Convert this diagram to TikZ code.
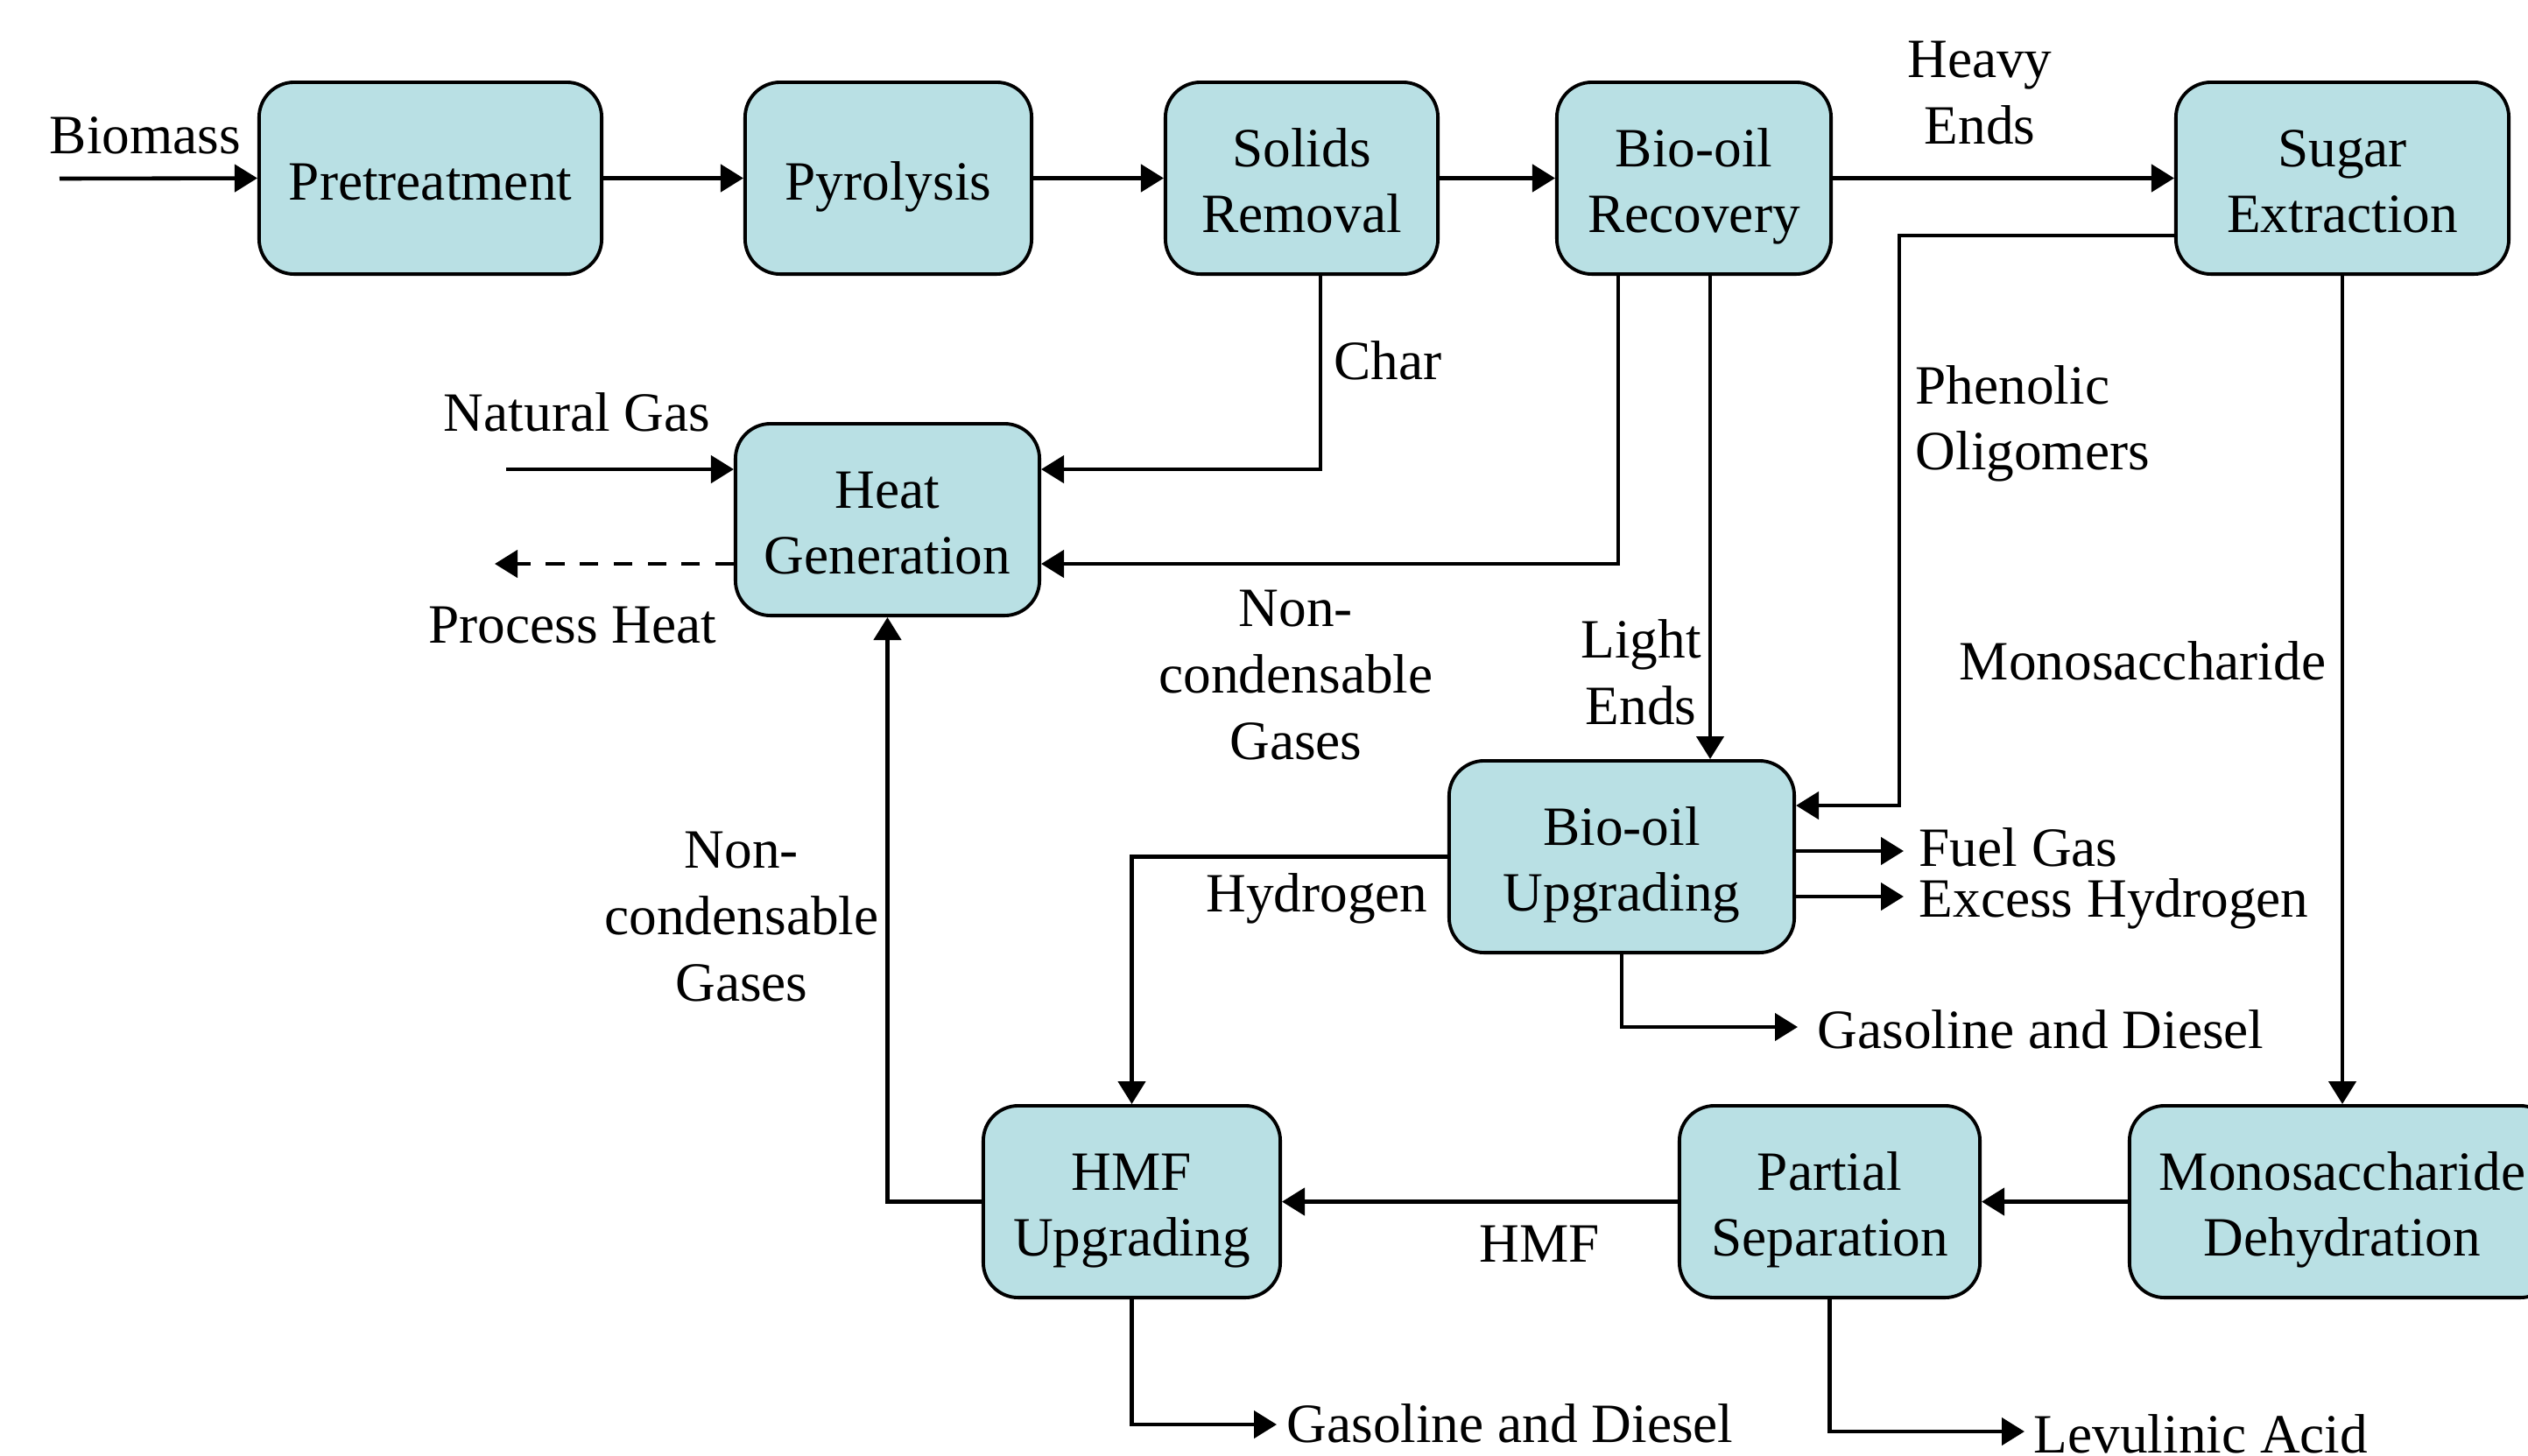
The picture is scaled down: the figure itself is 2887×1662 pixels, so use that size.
\documentclass[tikz,border=0pt]{standalone}
\usepackage{fontspec}
\setmainfont{Liberation Serif}
\usetikzlibrary{arrows.meta,calc}
\definecolor{boxfill}{RGB}{185,224,228}
\newcommand\topst{\rule{0pt}{18pt}}
\newcommand\botst{\rule[-4pt]{0pt}{4pt}}
\begin{document}
\begin{tikzpicture}[x=0.01cm,y=-0.01cm,
  box/.style={draw=black,line width=1.1pt,fill=boxfill,rounded corners=0.4cm,align=center,
    font=\fontsize{18}{21.5}\selectfont,minimum height=2.19cm,inner sep=0pt},
  lbl/.style={align=center,font=\fontsize{18}{21.5}\selectfont,inner sep=0pt},
  lbll/.style={lbl,align=left,anchor=west},
  arr/.style={line width=1.3pt,-{Triangle[length=0.26cm,width=0.31cm]}},
  dash arr/.style={arr,dash pattern=on 6pt off 5pt}]
\useasboundingbox (0,0) rectangle (2887,1662);
\begin{scope}
\clip (0,0) rectangle (2887,1662);
% boxes
\node[box,minimum width=3.91cm] (pre) at (491.5,203.5) {\topst\botst Pretreatment};
\node[box,minimum width=3.27cm] (pyr) at (1014.5,203.5) {\topst\botst Pyrolysis};
\node[box,minimum width=3.11cm] (sol) at (1486.5,203.5) {\topst Solids\\Removal\botst};
\node[box,minimum width=3.13cm] (rec) at (1934.5,203.5) {\topst Bio-oil\\Recovery\botst};
\node[box,minimum width=3.80cm] (sug) at (2675,203.5) {\topst Sugar\\Extraction\botst};
\node[box,minimum width=3.47cm] (heat) at (1013.5,593.5) {\topst Heat\\Generation\botst};
\node[box,minimum width=3.94cm] (upg) at (1852,978.5) {\topst Bio-oil\\Upgrading\botst};
\node[box,minimum width=3.39cm] (hmf) at (1292.5,1372.5) {\topst HMF\\Upgrading\botst};
\node[box,minimum width=3.43cm] (part) at (2089.5,1372.5) {\topst Partial\\Separation\botst};
\node[box,minimum width=4.86cm] (mono) at (2675,1372.5) {\topst Monosaccharide\\Dehydration\botst};
% labels
\node[lbl] (lbio) at (166,155) {Biomass};
\node[lbl] (lheavy) at (2261,106) {Heavy\\Ends};
\node[lbl] (lchar) at (1585,412) {Char};
\node[lbl] (lng) at (659,471) {Natural Gas};
\node[lbl] (lph) at (654,714) {Process Heat};
\node[lbll] (lphen) at (2187,484) {Phenolic\\Oligomers};
\node[lbl] (lnc1) at (1480,771) {Non-\\condensable\\Gases};
\node[lbl] (lle) at (1874,768) {Light\\Ends};
\node[lbl] (lmono) at (2447,755) {Monosaccharide};
\node[lbl] (lnc2) at (847,1047) {Non-\\condensable\\Gases};
\node[lbl] (lh2) at (1504,1026) {Hydrogen};
\node[lbll] (lfg) at (2191,968) {Fuel Gas};
\node[lbll] (leh) at (2191,1032) {Excess Hydrogen};
\node[lbll] (lgd1) at (2075,1176) {Gasoline and Diesel};
\node[lbl] (lhmf) at (1758,1421) {HMF};
\node[lbll] (lgd2) at (1469,1626) {Gasoline and Diesel};
\node[lbll] (lla) at (2322,1638) {Levulinic Acid};
% free ends
\coordinate (bioin) at (68,204);
\coordinate (ngin) at (578,536);
\coordinate (phout) at (565,644);
\coordinate (fgout) at (2174,972);
\coordinate (ehout) at (2174,1024);
\coordinate (gd1out) at (2053,1173);
\coordinate (gd2out) at (1458,1627);
\coordinate (laout) at (2312,1635);
\coordinate (charA) at ($(sol.south)+(21.5,0)$);
\coordinate (charB) at ($(heat.east)+(0,-57.5)$);
\coordinate (ncA) at ($(rec.south)+(-86.5,0)$);
\coordinate (ncB) at ($(heat.east)+(0,50.5)$);
\coordinate (leA) at ($(rec.south)+(18.5,0)$);
\coordinate (phA) at ($(sug.west)+(0,65.5)$);
\coordinate (phB) at ($(upg.east)+(0,-58.5)$);
% connectors
\draw[arr] (bioin) -- (pre.west);
\draw[arr] (pre) -- (pyr);
\draw[arr] (pyr) -- (sol);
\draw[arr] (sol) -- (rec);
\draw[arr] (rec) -- (sug);
\draw[arr] (charA) |- (charB);
\draw[arr] (ncA) |- (ncB);
\draw[arr] (leA) -- (leA |- upg.north);
\draw[arr] (phA) -| ($(phB)+(118,0)$) -- (phB);
\draw[arr] (sug.south) -- (mono.north);
\draw[arr] (ngin) -- (ngin -| heat.west);
\draw[dash arr] (phout -| heat.west) -- (phout);
\draw[arr] (fgout -| upg.east) -- (fgout);
\draw[arr] (ehout -| upg.east) -- (ehout);
\draw[arr] (upg.south) |- (gd1out);
\draw[arr] (upg.west) -| (hmf.north);
\draw[arr] (mono.west) -- (part.east);
\draw[arr] (part.west) -- (hmf.east);
\draw[arr] (hmf.west) -| (heat.south);
\draw[arr] (hmf.south) |- (gd2out);
\draw[arr] (part.south) |- (laout);
\end{scope}
\end{tikzpicture}
\end{document}
